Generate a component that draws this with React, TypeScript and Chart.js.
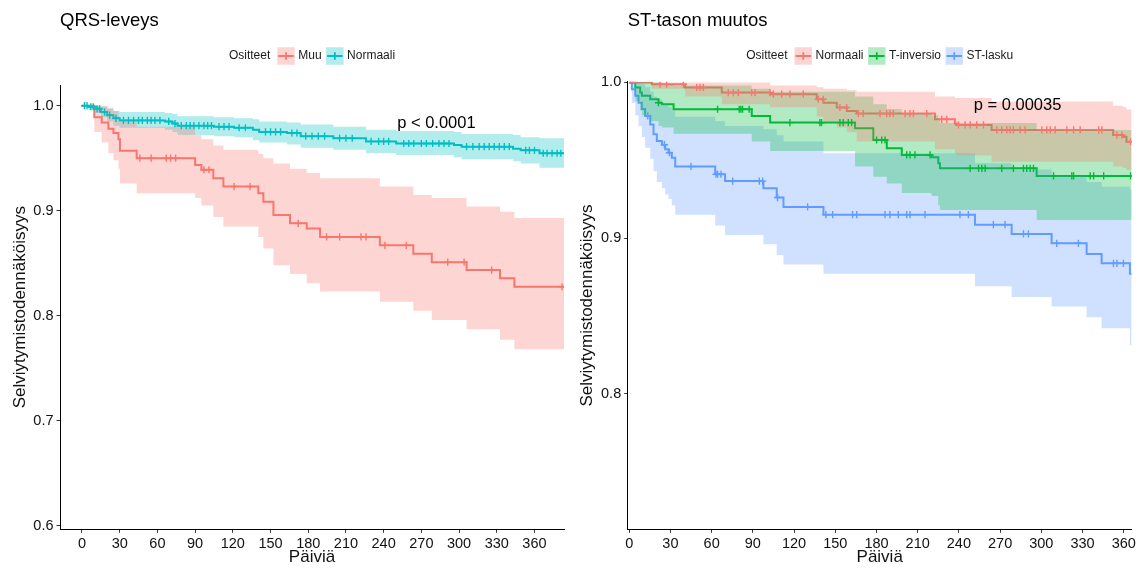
import { useEffect, useRef } from "react";
import { Chart, registerables } from "chart.js";

Chart.register(...registerables);

const FONT = "'Liberation Sans', Arial, Helvetica, sans-serif";
const CANVAS_H = 571;

// Shared axis labels
const legendTitle = "Ositteet";
const xTitle = "Päiviä";
const yTitle = "Selviytymistodennäköisyys";
const dayTicks = [0, 30, 60, 90, 120, 150, 180, 210, 240, 270, 300, 330, 360];

// ---------- QRS-leveys ----------
const qrsTitle = "QRS-leveys";
const qrsPText = "p < 0.0001";
const qrsPAt = [282, 0.9835];
const qrsSurvTicks = [0.6, 0.7, 0.8, 0.9, 1.0];

const muuTimes = [0, 9.8, 15.7, 21, 25, 29, 30.2, 43.5, 90, 95, 104.5, 112.5, 140.3, 144.3, 152.3, 165.5, 178.8, 189.4, 237, 263.6, 278.3, 306, 332.6, 344, 383.5];
const muuSurv = [1, 0.989, 0.984, 0.978, 0.974, 0.968, 0.957, 0.95, 0.9435, 0.939, 0.931, 0.923, 0.9166, 0.9086, 0.896, 0.888, 0.883, 0.875, 0.867, 0.859, 0.851, 0.8435, 0.8356, 0.8276, 0.8276];
const muuUpper = [1, 1, 1, 0.998, 0.995, 0.99, 0.985, 0.98, 0.972, 0.968, 0.962, 0.958, 0.954, 0.95, 0.945, 0.94, 0.936, 0.931, 0.923, 0.915, 0.912, 0.904, 0.899, 0.893, 0.893];
const muuLower = [1, 0.975, 0.965, 0.955, 0.948, 0.94, 0.926, 0.9166, 0.912, 0.905, 0.894, 0.885, 0.875, 0.864, 0.848, 0.8397, 0.831, 0.823, 0.8133, 0.8048, 0.796, 0.787, 0.777, 0.768, 0.768];
const muuCensor = [46, 55, 67, 70.5, 74.5, 97, 101, 121, 133.7, 172, 194.6, 205, 222, 226, 241, 258, 291, 304, 326, 382];

const normTimes = [0, 5, 10, 15, 20, 25, 30, 66, 72, 76, 105, 121, 136, 141, 163, 174, 200, 226, 250, 296, 302, 343, 349, 364, 383.5];
const normSurv = [1, 0.999, 0.997, 0.994, 0.991, 0.988, 0.986, 0.985, 0.983, 0.981, 0.98, 0.979, 0.977, 0.975, 0.974, 0.971, 0.969, 0.966, 0.964, 0.9626, 0.961, 0.959, 0.9575, 0.9547, 0.9547];
const normUpper = [1, 1, 1, 0.999, 0.997, 0.995, 0.994, 0.993, 0.992, 0.99, 0.989, 0.988, 0.987, 0.985, 0.984, 0.982, 0.98, 0.977, 0.976, 0.975, 0.973, 0.972, 0.97, 0.969, 0.969];
const normLower = [1, 0.996, 0.993, 0.989, 0.985, 0.981, 0.979, 0.977, 0.975, 0.972, 0.971, 0.97, 0.967, 0.965, 0.963, 0.96, 0.958, 0.955, 0.953, 0.951, 0.949, 0.947, 0.945, 0.941, 0.941];
const normCensor = [2, 4, 7, 9, 12, 14, 18, 22, 27, 33, 37, 41, 45, 48, 52, 55, 58, 62, 69, 74, 79, 83, 86, 89, 93, 97, 100, 103, 109, 113, 117, 125, 130, 146, 150, 154, 158, 167, 171, 178, 183, 188, 193, 205, 210, 215, 230, 236, 240, 244, 256, 260, 264, 270, 274, 279, 284, 288, 292, 306, 311, 316, 320, 324, 328, 332, 336, 340, 353, 356, 360, 367, 370, 374, 378, 381];

// ---------- ST-tason muutos ----------
const stTitle = "ST-tason muutos";
const stPText = "p = 0.00035";
const stPAt = [282.7, 0.985];
const stSurvTicks = [0.8, 0.9, 1.0];

const stNormTimes = [0, 16.5, 40.7, 67.4, 102.6, 136.5, 141.4, 151.1, 158.4, 165.6, 222.6, 237.1, 238.4, 263.8, 352.3, 359.6, 362, 365.8];
const stNormSurv = [1, 0.9989, 0.9968, 0.9935, 0.9925, 0.9892, 0.987, 0.9839, 0.9817, 0.98, 0.9763, 0.9737, 0.9727, 0.9695, 0.9662, 0.9651, 0.9619, 0.9619];
const stNormUpper = [1, 1, 1, 1, 0.998, 0.997, 0.996, 0.996, 0.995, 0.994, 0.991, 0.99, 0.99, 0.9877, 0.985, 0.984, 0.9827, 0.9827];
const stNormLower = [1, 0.996, 0.991, 0.986, 0.984, 0.978, 0.975, 0.971, 0.968, 0.962, 0.957, 0.954, 0.953, 0.949, 0.946, 0.945, 0.9437, 0.9437];
const stNormCensor = [22.4, 27.3, 39.4, 49.1, 51.5, 54, 72.1, 75.8, 79.4, 89.1, 91.6, 102.5, 104.9, 111, 117, 126.7, 137.6, 141.3, 153.4, 158.3, 166.8, 170.4, 182.6, 187.4, 189.8, 192.3, 200.8, 204.4, 206.9, 216.6, 227.5, 231.2, 239.7, 244.5, 248.2, 253, 257.9, 267.6, 271.2, 274.9, 277.3, 279.7, 284.6, 288.2, 300.4, 304, 306.5, 310.1, 318.6, 323.5, 328.3, 341.7, 344.1, 355, 358.7, 365];

const stTinvTimes = [0, 4.4, 8, 9.2, 15.3, 21.3, 23.8, 32.3, 89.2, 102.6, 164.4, 177.7, 187.5, 198.4, 220.2, 225, 226.2, 296.6, 365.8];
const stTinvSurv = [1, 0.9968, 0.9935, 0.9914, 0.9892, 0.987, 0.986, 0.9828, 0.9785, 0.9742, 0.9705, 0.963, 0.9577, 0.9534, 0.9519, 0.948, 0.9448, 0.9399, 0.9399];
const stTinvUpper = [1, 1, 1, 1, 1, 1, 0.999, 0.998, 0.996, 0.994, 0.991, 0.986, 0.983, 0.98, 0.979, 0.976, 0.974, 0.9695, 0.9695];
const stTinvLower = [1, 0.988, 0.982, 0.979, 0.975, 0.972, 0.971, 0.967, 0.962, 0.956, 0.946, 0.9394, 0.935, 0.929, 0.927, 0.921, 0.918, 0.9116, 0.9116];
const stTinvCensor = [21.3, 64.3, 80.1, 81.3, 82.5, 87.3, 117, 138.8, 140, 153.4, 155.8, 159.5, 161.9, 180.1, 183.8, 186.2, 202, 204.4, 208, 219, 248.2, 254.3, 256.7, 259.1, 271.2, 279.7, 287, 289.4, 291.9, 294.3, 308.9, 322.2, 323.5, 335.6, 338.1, 345.4, 365];

const stLaskuTimes = [0, 1.9, 4.4, 6.8, 9.2, 11.6, 15.3, 17.7, 20.1, 23.8, 26.2, 28.6, 31, 33.5, 62.6, 69.8, 97.7, 107.4, 112.3, 141.4, 251.7, 278.4, 307.5, 333, 343.9, 364.5, 365.8];
const stLaskuSurv = [1, 0.9957, 0.9914, 0.987, 0.983, 0.9785, 0.973, 0.9667, 0.9624, 0.96, 0.957, 0.9548, 0.9516, 0.946, 0.941, 0.9366, 0.932, 0.926, 0.92, 0.915, 0.9086, 0.9026, 0.8966, 0.8897, 0.8837, 0.877, 0.877];
const stLaskuUpper = [1, 1, 1, 1, 0.999, 0.997, 0.994, 0.991, 0.989, 0.987, 0.986, 0.984, 0.982, 0.978, 0.975, 0.972, 0.97, 0.966, 0.962, 0.9545, 0.948, 0.944, 0.94, 0.936, 0.933, 0.931, 0.931];
const stLaskuLower = [1, 0.987, 0.979, 0.972, 0.965, 0.958, 0.951, 0.943, 0.936, 0.932, 0.928, 0.925, 0.921, 0.915, 0.908, 0.902, 0.896, 0.889, 0.883, 0.877, 0.869, 0.862, 0.856, 0.849, 0.842, 0.831, 0.831];
const stLaskuCensor = [13.5, 25.6, 29.3, 45, 63.2, 64.4, 66.8, 75.3, 94.7, 97.1, 108, 129.9, 143.2, 148.1, 162.6, 165.6, 186.2, 189.8, 195.9, 202, 204.4, 215.3, 240.8, 246.9, 265.1, 273.6, 287, 290.6, 311.2, 327, 352.5, 355, 359.8];

// ggplot default hues
const RED = [248, 118, 109];
const CYAN = [0, 191, 196];
const GREEN = [0, 186, 56];
const BLUE = [97, 156, 255];

const rgba = (c, a) => `rgba(${c[0]},${c[1]},${c[2]},${a})`;

type Stratum = {
  label: string;
  color: number[];
  times: number[];
  surv: number[];
  upper: number[];
  lower: number[];
  censor: number[];
};

// Kaplan–Meier step lookup: value in effect at time t
function survAt(s: Stratum, t: number) {
  let v = s.surv[0];
  for (let i = 0; i < s.times.length; i++) {
    if (s.times[i] <= t) v = s.surv[i];
  }
  return v;
}

function buildDatasets(strata: Stratum[]) {
  const ds: any[] = [];
  const pts = (s: Stratum, vals: number[]) => s.times.map((t, i) => ({ x: t, y: vals[i] }));
  // survival curves (drawn first)
  strata.forEach((s) => {
    ds.push({
      type: "line",
      data: pts(s, s.surv),
      borderColor: rgba(s.color, 1),
      borderWidth: 2,
      stepped: "before",
      pointRadius: 0,
      fill: false,
      order: 2,
    });
  });
  // confidence ribbons on top of the curves
  strata.forEach((s) => {
    ds.push({
      type: "line",
      data: pts(s, s.upper),
      borderColor: "transparent",
      borderWidth: 0,
      stepped: "before",
      pointRadius: 0,
      fill: false,
      order: 1,
    });
    ds.push({
      type: "line",
      data: pts(s, s.lower),
      borderColor: "transparent",
      borderWidth: 0,
      stepped: "before",
      pointRadius: 0,
      fill: "-1",
      backgroundColor: rgba(s.color, 0.3),
      order: 1,
    });
  });
  // censoring marks
  strata.forEach((s) => {
    ds.push({
      type: "line",
      data: s.censor.map((t) => ({ x: t, y: survAt(s, t) })),
      showLine: false,
      pointStyle: "cross",
      pointRadius: 3.6,
      pointBorderWidth: 1.4,
      pointBorderColor: rgba(s.color, 1),
      pointBackgroundColor: rgba(s.color, 1),
      order: 0,
    });
  });
  return ds;
}

type PanelSpec = {
  width: number;
  offsetX: number;
  panel: { left: number; right: number; top: number; bottom: number };
  xRange: number[];
  yRange: number[];
  yTicks: number[];
  title: string;
  pText: string;
  pAt: number[];
  strata: Stratum[];
  yTitleX: number;
};

const qrsPanel: PanelSpec = {
  width: 570,
  offsetX: 0,
  panel: { left: 60, right: 564, top: 85, bottom: 529.3 },
  xRange: [-17.5, 383.5],
  yRange: [0.5966, 1.0197],
  yTicks: qrsSurvTicks,
  title: qrsTitle,
  pText: qrsPText,
  pAt: qrsPAt,
  yTitleX: 20,
  strata: [
    { label: "Muu", color: RED, times: muuTimes, surv: muuSurv, upper: muuUpper, lower: muuLower, censor: muuCensor },
    { label: "Normaali", color: CYAN, times: normTimes, surv: normSurv, upper: normUpper, lower: normLower, censor: normCensor },
  ],
};

const stPanel: PanelSpec = {
  width: 571,
  offsetX: 570,
  panel: { left: 57.7, right: 561.7, top: 81.7, bottom: 529.3 },
  xRange: [-1.1, 365.8],
  yRange: [0.7127, 1.0005],
  yTicks: stSurvTicks,
  title: stTitle,
  pText: stPText,
  pAt: stPAt,
  yTitleX: 17,
  strata: [
    { label: "Normaali", color: RED, times: stNormTimes, surv: stNormSurv, upper: stNormUpper, lower: stNormLower, censor: stNormCensor },
    { label: "T-inversio", color: GREEN, times: stTinvTimes, surv: stTinvSurv, upper: stTinvUpper, lower: stTinvLower, censor: stTinvCensor },
    { label: "ST-lasku", color: BLUE, times: stLaskuTimes, surv: stLaskuSurv, upper: stLaskuUpper, lower: stLaskuLower, censor: stLaskuCensor },
  ],
};

function decorations(spec: PanelSpec) {
  return {
    id: "survDecor",
    afterDraw(chart: any) {
      const ctx = chart.ctx;
      const area = chart.chartArea;
      const cx = (area.left + area.right) / 2;
      ctx.save();
      ctx.fillStyle = "#000";

      // panel title
      ctx.font = `18.5px ${FONT}`;
      ctx.textAlign = "left";
      ctx.textBaseline = "middle";
      ctx.fillText(spec.title, area.left, 21);

      // legend
      ctx.font = `12px ${FONT}`;
      const key = 17.5;
      const gapTitle = 7;
      const gapLabel = 3.5;
      const gapItem = 4.5;
      const titleW = ctx.measureText(legendTitle).width;
      let total = titleW + gapTitle;
      spec.strata.forEach((s, i) => {
        total += key + gapLabel + ctx.measureText(s.label).width;
        if (i < spec.strata.length - 1) total += gapItem;
      });
      let x = cx - total / 2;
      const ly = 56;
      ctx.fillStyle = "#1a1a1a";
      ctx.fillText(legendTitle, x, ly);
      x += titleW + gapTitle;
      spec.strata.forEach((s) => {
        ctx.fillStyle = rgba(s.color, 0.3);
        ctx.fillRect(x, ly - key / 2, key, key);
        ctx.strokeStyle = rgba(s.color, 1);
        ctx.lineWidth = 1.8;
        ctx.beginPath();
        ctx.moveTo(x + 1, ly);
        ctx.lineTo(x + key - 1, ly);
        ctx.moveTo(x + key / 2, ly - 3.8);
        ctx.lineTo(x + key / 2, ly + 3.8);
        ctx.stroke();
        x += key + gapLabel;
        ctx.fillStyle = "#1a1a1a";
        ctx.fillText(s.label, x, ly);
        x += ctx.measureText(s.label).width + gapItem;
      });

      // p-value annotation
      ctx.font = `16.5px ${FONT}`;
      ctx.textAlign = "center";
      ctx.fillStyle = "#000";
      ctx.fillText(spec.pText, chart.scales.x.getPixelForValue(spec.pAt[0]), chart.scales.y.getPixelForValue(spec.pAt[1]));

      // axis titles
      ctx.font = `17px ${FONT}`;
      ctx.fillStyle = "#111";
      ctx.fillText(xTitle, cx, 557);
      ctx.translate(spec.yTitleX, (area.top + area.bottom) / 2);
      ctx.rotate(-Math.PI / 2);
      ctx.fillText(yTitle, 0, 0);
      ctx.restore();
    },
  };
}

function makeChart(canvas: HTMLCanvasElement, spec: PanelSpec) {
  const p = spec.panel;
  const tickFont = { family: FONT, size: 14.5 };
  const axisGrid = { drawOnChartArea: false, drawTicks: true, tickLength: 3.5, tickColor: "#333", tickWidth: 1 };
  return new Chart(canvas, {
    type: "line",
    data: { datasets: buildDatasets(spec.strata) },
    options: {
      animation: false,
      responsive: false,
      devicePixelRatio: 1,
      layout: { padding: { left: 0, top: p.top, right: spec.width - p.right, bottom: 0 } },
      plugins: { legend: { display: false }, tooltip: { enabled: false }, title: { display: false } },
      events: [],
      scales: {
        x: {
          type: "linear",
          min: spec.xRange[0],
          max: spec.xRange[1],
          afterBuildTicks: (s: any) => {
            s.ticks = dayTicks.map((v) => ({ value: v }));
          },
          afterFit: (s: any) => {
            s.height = CANVAS_H - p.bottom;
          },
          ticks: { font: tickFont, color: "#111", padding: 2, maxRotation: 0, autoSkip: false, callback: (v: any) => String(v) },
          grid: axisGrid,
          border: { display: true, color: "#000", width: 1 },
        },
        y: {
          type: "linear",
          min: spec.yRange[0],
          max: spec.yRange[1],
          afterBuildTicks: (s: any) => {
            s.ticks = spec.yTicks.map((v) => ({ value: v }));
          },
          afterFit: (s: any) => {
            s.width = p.left;
          },
          ticks: { font: tickFont, color: "#111", padding: 3, autoSkip: false, callback: (v: any) => Number(v).toFixed(1) },
          grid: axisGrid,
          border: { display: true, color: "#000", width: 1 },
        },
      },
    },
    plugins: [decorations(spec)],
  } as any);
}

function SurvivalPanel({ spec }: { spec: PanelSpec }) {
  const ref = useRef<HTMLCanvasElement | null>(null);
  useEffect(() => {
    if (!ref.current) return;
    const chart = makeChart(ref.current, spec);
    return () => chart.destroy();
  }, [spec]);
  return (
    <canvas
      ref={ref}
      width={spec.width}
      height={CANVAS_H}
      style={{ position: "absolute", left: spec.offsetX, top: 0, width: spec.width, height: CANVAS_H }}
    />
  );
}

export default function App() {
  return (
    <div style={{ position: "absolute", left: 0, top: 0, width: 1141, height: CANVAS_H, background: "#fff", overflow: "hidden" }}>
      <SurvivalPanel spec={qrsPanel} />
      <SurvivalPanel spec={stPanel} />
    </div>
  );
}
